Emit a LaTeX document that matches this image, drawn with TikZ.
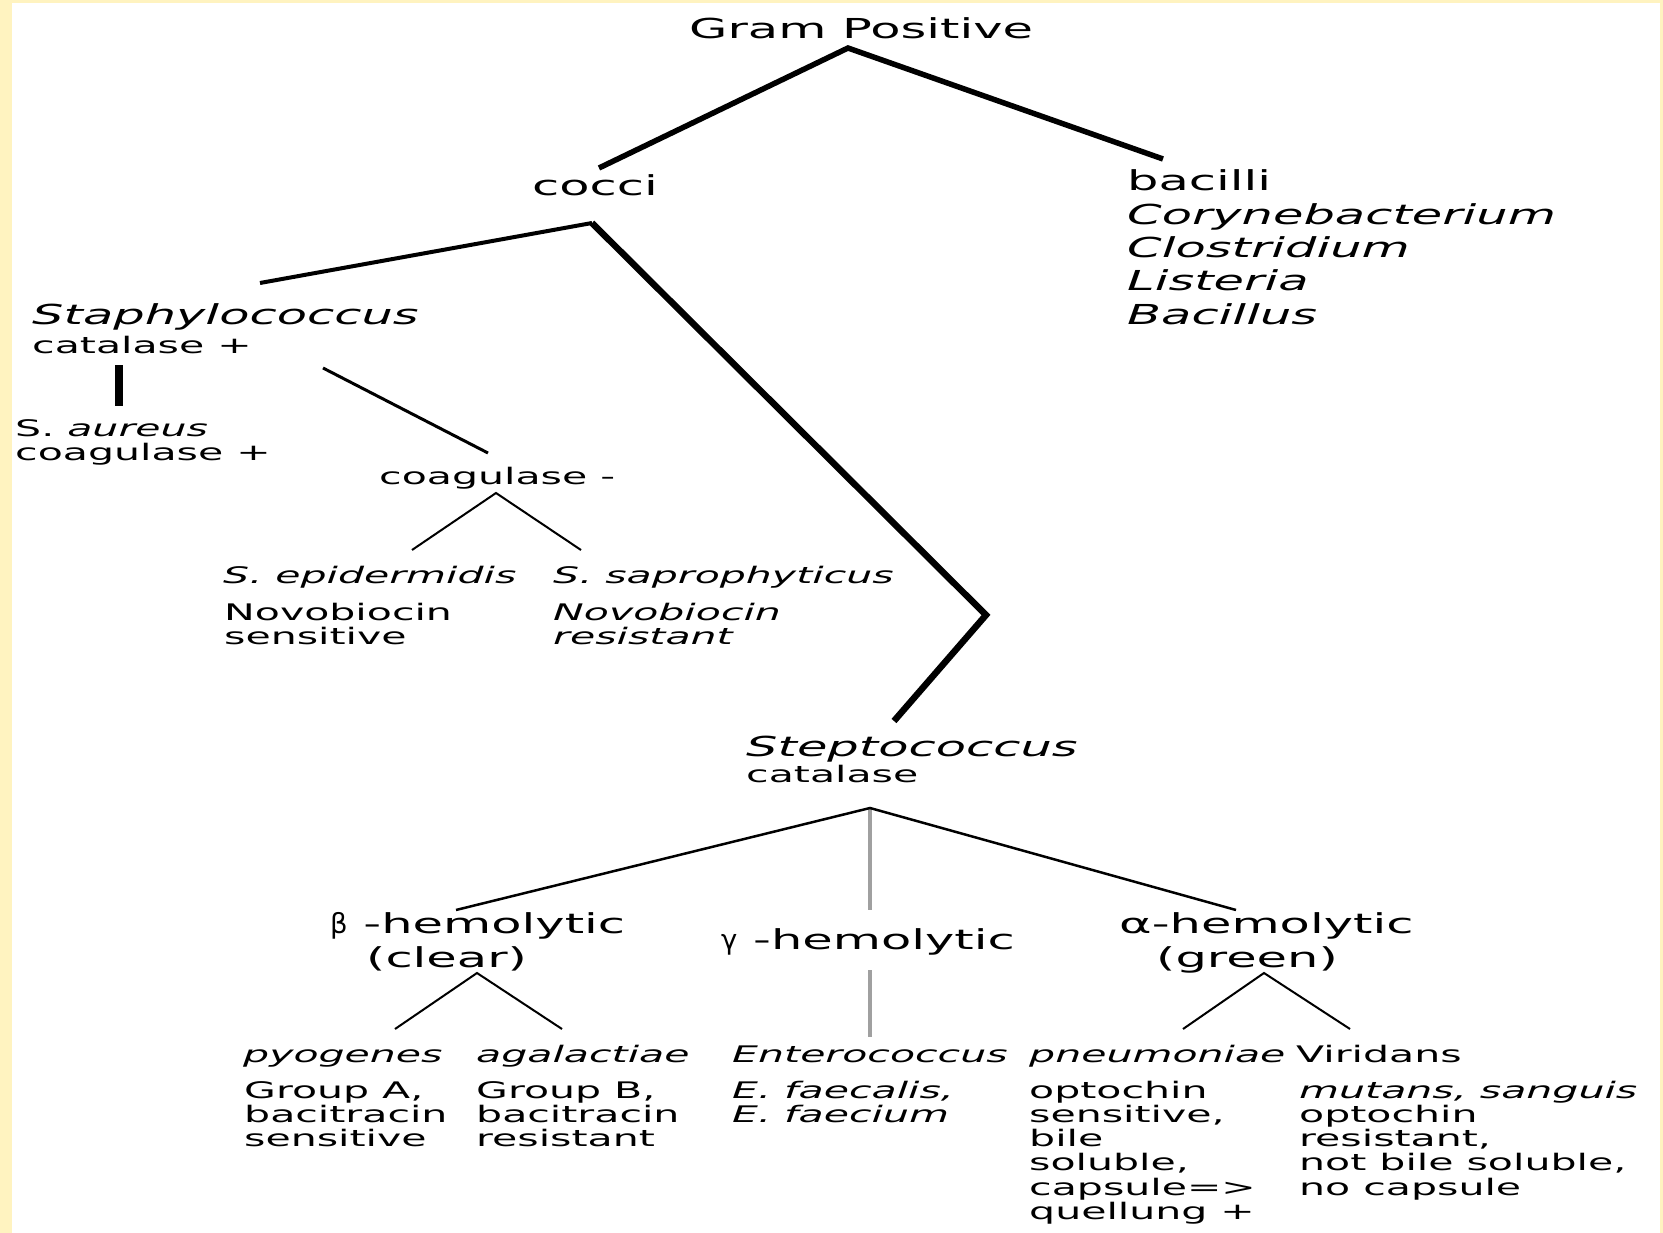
\documentclass[tikz,border=0pt]{standalone}
\usepackage{fontspec}
\setmainfont[FakeStretch=1.8]{DejaVu Sans}
\newfontfamily\grk{DejaVu Sans}
\definecolor{bgyellow}{RGB}{255,243,192}
\definecolor{linegray}{RGB}{160,160,160}
\newcommand{\mystack}[1]{\begin{tabular}[t]{@{}l@{}}#1\end{tabular}}
\begin{document}
\begin{tikzpicture}[x=1pt,y=-1pt,
  bigt/.style={font=\fontsize{27.5}{33.5}\selectfont, inner sep=0pt, anchor=base west},
  smallt/.style={font=\fontsize{22.8}{23.3}\selectfont, inner sep=0pt, anchor=base west},
  heavy/.style={line width=5.5pt},
  medium/.style={line width=3pt},
  light/.style={line width=2pt},
  grayline/.style={line width=4pt, draw=linegray}]
\useasboundingbox (0,0) rectangle (1663,1233);
\fill[bgyellow] (0,0) rectangle (1663,1233);
\fill[white] (12,3) rectangle (1660,1233);

% ---- text nodes ----
\node[bigt] (gp) at (689,39) {Gram Positive};
\node[bigt] (cocci) at (532,196) {cocci};
\node[bigt, font=\fontsize{27.5}{33.3}\selectfont] (bacilli) at (1127,191)
  {\mystack{bacilli\\\textit{Corynebacterium}\\\textit{Clostridium}\\\textit{Listeria}\\\textit{Bacillus}}};
\node[bigt] (staph) at (32,325) {\textit{Staphylococcus}};
\node[smallt] (cat1) at (32,353) {catalase +};
\node[smallt] (aureus) at (15,436) {\mystack{S. \textit{aureus}\\coagulase +}};
\node[smallt] (coagneg) at (379,484) {coagulase -};
\node[smallt] (epi) at (223,583) {\textit{S. epidermidis}};
\node[smallt] (sapro) at (553,583) {\textit{S. saprophyticus}};
\node[smallt] (epinote) at (224,620) {\mystack{Novobiocin\\sensitive}};
\node[smallt] (sapnote) at (553,620) {\mystack{\textit{Novobiocin}\\\textit{resistant}}};
\node[bigt] (strep) at (746,756) {\textit{Steptococcus}};
\node[smallt] (cat2) at (746,782) {catalase};
\node[bigt] (beta) at (330,933) {{\grk β} -hemolytic};
\node[bigt] (clear) at (366,967) {(clear)};
\node[bigt] (gamma) at (721,949) {{\grk γ} -hemolytic};
\node[bigt] (alpha) at (1119,933) {α-hemolytic};
\node[bigt] (green) at (1156,967) {(green)};
\node[smallt] (pyo) at (243,1062) {\textit{pyogenes}};
\node[smallt] (aga) at (476,1062) {\textit{agalactiae}};
\node[smallt] (ent) at (732,1062) {\textit{Enterococcus}};
\node[smallt] (pneu) at (1029,1062) {\textit{pneumoniae}};
\node[smallt] (viri) at (1296,1062) {Viridans};
\node[smallt] (pyonote) at (244,1098) {\mystack{Group A,\\bacitracin\\sensitive}};
\node[smallt] (aganote) at (476,1098) {\mystack{Group B,\\bacitracin\\resistant}};
\node[smallt] (entnote) at (732,1098) {\mystack{\textit{E. faecalis,}\\\textit{E. faecium}}};
\node[smallt] (pneunote) at (1029,1098) {\mystack{optochin\\sensitive,\\bile\\soluble,\\capsule=>\\quellung +}};
\node[smallt] (virinote) at (1299,1098) {\mystack{\textit{mutans, sanguis}\\optochin\\resistant,\\not bile soluble,\\no capsule}};

% ---- connector end points ----
\coordinate (gpA) at (848,48);
\coordinate (coccitop) at (599,168);
\coordinate (bacillitop) at (1163,159);
\coordinate (coccA) at (592,223);
\coordinate (staphtop) at (260,283);
\coordinate (kink) at (986,615);
\coordinate (streptop) at (894,721);
\coordinate (aurA) at (119,365);
\coordinate (aurB) at (119,406);
\coordinate (cnA) at (323,368);
\coordinate (cnB) at (488,453);
\coordinate (cnApex) at (496,493);
\coordinate (epitop) at (412,550);
\coordinate (saptop) at (581,550);
\coordinate (strA) at (870,808);
\coordinate (betatop) at (456,910);
\coordinate (gammatop) at (870,910);
\coordinate (alphatop) at (1236,910);
\coordinate (gammabot) at (870,970);
\coordinate (enttop) at (870,1037);
\coordinate (betaA) at (477,973);
\coordinate (pyotop) at (395,1029);
\coordinate (agatop) at (562,1029);
\coordinate (alphaA) at (1264,973);
\coordinate (pneutop) at (1183,1029);
\coordinate (viritop) at (1350,1029);

% ---- connectors ----
\draw[heavy] (coccitop) -- (gpA) -- (bacillitop);
\draw[line width=4pt] (staphtop) -- (coccA);
\draw[line width=6.5pt] (coccA) -- (kink) -- (streptop);
\draw[line width=8pt] (aurA) -- (aurB);
\draw[medium] (cnA) -- (cnB);
\draw[light] (epitop) -- (cnApex) -- (saptop);
\draw[grayline] (strA) -- (gammatop);
\draw[grayline] (gammabot) -- (enttop);
\draw[line width=2.5pt] (betatop) -- (strA) -- (alphatop);
\draw[light] (pyotop) -- (betaA) -- (agatop);
\draw[light] (pneutop) -- (alphaA) -- (viritop);
\end{tikzpicture}
\end{document}
